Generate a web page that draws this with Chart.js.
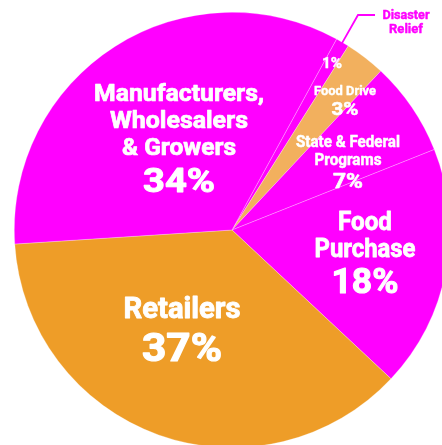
<!DOCTYPE html>
<html>
<head>
<meta charset="utf-8">
<script src="https://cdn.jsdelivr.net/npm/chart.js@4.4.1/dist/chart.umd.min.js"></script>
<style>
    html, body { margin: 0; padding: 0; background: #fff; overflow: hidden; }
    #wrap { position: absolute; left: 0; top: 0; width: 464px; height: 460px; }
</style>
</head>
<body>
<div id="wrap"><canvas id="pieCanvas"></canvas></div>
<script>
// data, clockwise from the small "Disaster Relief" slice
const categories = ["Disaster Relief", "Food Drive", "State & Federal Programs", "Food Purchase", "Retailers", "Manufacturers, Wholesalers & Growers"];
const shares = [1, 3, 7, 18, 37, 34];
const sliceColors = ["#FF00FF", "#F2B05E", "#FF00FF", "#FF00FF", "#EE9D28", "#FF00FF"];

// label text per slice
const labelLines = [
    ["1%"],
    ["Food Drive", "3%"],
    ["State & Federal", "Programs", "7%"],
    ["Food", "Purchase", "18%"],
    ["Retailers", "37%"],
    ["Manufacturers,", "Wholesalers", "& Growers", "34%"]
];

// label block layout: centre x, baseline of each line, font size, drawn width
const labelLayout = [
    { x: 332, y: [68], size: [14], w: [20] },
    { x: 345, y: [95, 115], size: [12.5, 18.5], w: [62, 27] },
    { x: 348, y: [147, 165, 188], size: [17, 17, 21], w: [104, 67, 30] },
    { x: 365, y: [230, 257, 293], size: [26, 26, 35], w: [54, 101, 67] },
    { x: 182, y: [318, 361], size: [30, 39], w: [117, 80] },
    { x: 179, y: [101, 128, 155, 192], size: [24.5, 24.5, 24.5, 33], w: [170, 138, 114, 72] }
];

const FONT = "Roboto, 'Noto Sans', sans-serif";

function drawFitted(ctx, txt, x, y, size, width) {
    ctx.font = "bold " + size + "px " + FONT;
    var m = ctx.measureText(txt).width;
    var k = width / m;
    ctx.save();
    ctx.translate(x, y);
    ctx.scale(k, 1);
    ctx.lineWidth = Math.max(0.4, size * 0.03);
    ctx.lineJoin = "round";
    ctx.strokeStyle = ctx.fillStyle;
    ctx.strokeText(txt, 0, 0);
    ctx.fillText(txt, 0, 0);
    ctx.restore();
}

const labelPlugin = {
    id: "sliceLabels",
    afterDatasetsDraw(chart) {
        const ctx = chart.ctx;
        ctx.save();
        ctx.textAlign = "center";
        ctx.textBaseline = "alphabetic";
        ctx.fillStyle = "#fff";
        labelLines.forEach(function (lines, i) {
            var lay = labelLayout[i];
            lines.forEach(function (txt, j) {
                drawFitted(ctx, txt, lay.x, lay.y[j], lay.size[j], lay.w[j]);
            });
        });

        // leader line + callout for Disaster Relief
        var arc = chart.getDatasetMeta(0).data[0];
        var mid = (arc.startAngle + arc.endAngle) / 2;
        var sx = arc.x + Math.cos(mid) * (arc.outerRadius - 4);
        var sy = arc.y + Math.sin(mid) * (arc.outerRadius - 4);
        ctx.strokeStyle = "#FF00FF";
        ctx.lineWidth = 1.8;
        ctx.beginPath();
        ctx.moveTo(sx, sy);
        ctx.lineTo(358, 15);
        ctx.lineTo(375, 15);
        ctx.stroke();

        ctx.fillStyle = "#FF00FF";
        drawFitted(ctx, "Disaster", 406, 19, 13, 47);
        drawFitted(ctx, "Relief", 406, 33, 13, 34);
        ctx.restore();
    }
};

new Chart(document.getElementById("pieCanvas"), {
    type: "pie",
    data: {
        labels: categories,
        datasets: [{
            data: shares,
            backgroundColor: sliceColors,
            borderColor: "rgba(255,255,255,0.45)",
            borderWidth: 0.6
        }]
    },
    options: {
        responsive: true,
        maintainAspectRatio: false,
        animation: false,
        rotation: 28.7,
        layout: { padding: 12 },
        plugins: {
            legend: { display: false },
            tooltip: { enabled: false }
        }
    },
    plugins: [labelPlugin]
});
</script>
</body>
</html>
